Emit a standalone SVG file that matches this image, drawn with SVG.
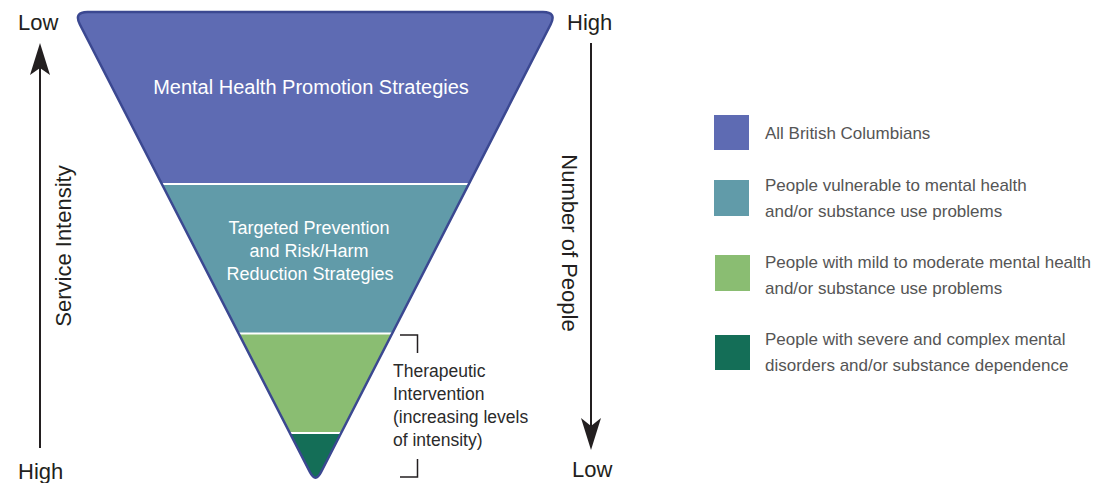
<svg xmlns="http://www.w3.org/2000/svg" width="1112" height="483" viewBox="0 0 1112 483">
  <style>
    .axis-label { font-family: "Liberation Sans", Arial, sans-serif; font-size: 22px; fill: #231f20; }
    .band-label { font-family: "Liberation Sans", Arial, sans-serif; fill: #ffffff; text-anchor: middle; }
    .note { font-family: "Liberation Sans", Arial, sans-serif; font-size: 17.5px; fill: #2b2b2b; }
    .legend-text { font-family: "Liberation Sans", Arial, sans-serif; font-size: 17px; fill: #555555; }
    .axis-line { stroke: #231f20; stroke-width: 2; fill: none; }
    .arrowhead { fill: #231f20; }
    .bracket { stroke: #231f20; stroke-width: 1.5; fill: none; }
    .separator { stroke: #ffffff; stroke-width: 2.2; }
    .c-blue { fill: #5e6bb3; }
    .c-teal { fill: #619ba9; }
    .c-green { fill: #8abd72; }
    .c-dark { fill: #146e57; }
  </style>
  <defs>
    <path id="funnel" d="M 87.5,12 L 543,12 Q 557,12 550.6,24.5 L 321,472.3 Q 315.5,483 310,472.3 L 79.9,24.5 Q 73.5,12 87.5,12 Z"/>
    <clipPath id="funnelClip">
      <use href="#funnel"/>
    </clipPath>
  </defs>

  <rect width="1112" height="483" fill="#ffffff"/>

  <g id="funnel-bands" clip-path="url(#funnelClip)">
    <g id="band-promotion">
      <rect class="c-blue" x="60" y="0" width="510" height="184"/>
    </g>
    <g id="band-prevention">
      <rect class="c-teal" x="60" y="184" width="510" height="149.5"/>
    </g>
    <g id="band-therapeutic">
      <rect class="c-green" x="60" y="333.5" width="510" height="99.5"/>
    </g>
    <g id="band-severe">
      <rect class="c-dark" x="60" y="433" width="510" height="60"/>
    </g>
    <line class="separator" x1="60" y1="184" x2="570" y2="184"/>
    <line class="separator" x1="60" y1="333.5" x2="570" y2="333.5"/>
    <line class="separator" x1="60" y1="433" x2="570" y2="433"/>
  </g>
  <use href="#funnel" fill="none" stroke="#3b4891" stroke-width="2.5"/>

  <g id="label-promotion">
    <text class="band-label" x="311" y="94" font-size="20">Mental Health Promotion Strategies</text>
  </g>
  <g id="label-prevention">
    <text class="band-label" x="309" y="234" font-size="18">Targeted Prevention</text>
    <text class="band-label" x="309" y="257" font-size="18">and Risk/Harm</text>
    <text class="band-label" x="310" y="280" font-size="18">Reduction Strategies</text>
  </g>

  <g id="therapeutic-note">
    <path class="bracket" d="M 400,335 H 417.5 V 353"/>
    <path class="bracket" d="M 417.5,459 V 477 H 400"/>
    <text class="note" x="393" y="377">Therapeutic</text>
    <text class="note" x="393" y="400">Intervention</text>
    <text class="note" x="393" y="423">(increasing levels</text>
    <text class="note" x="393" y="446">of intensity)</text>
  </g>

  <g id="connectors">
    <g id="axis-service-intensity">
      <line class="axis-line" x1="40" y1="66" x2="40" y2="448"/>
      <path class="arrowhead" d="M 40,43 L 50,75 L 40,68 L 30,75 Z"/>
    </g>
    <g id="axis-number-people">
      <line class="axis-line" x1="591" y1="43" x2="591" y2="428"/>
      <path class="arrowhead" d="M 591,450 L 601,418 L 591,426 L 581,418 Z"/>
    </g>
  </g>

  <g id="axis-labels">
    <text class="axis-label" x="18" y="30">Low</text>
    <text class="axis-label" x="18" y="479">High</text>
    <text class="axis-label" x="567" y="30">High</text>
    <text class="axis-label" x="572" y="477">Low</text>
    <text class="axis-label" text-anchor="middle" transform="translate(71,246) rotate(-90)">Service Intensity</text>
    <text class="axis-label" text-anchor="middle" transform="translate(562,243) rotate(90)">Number of People</text>
  </g>

  <g id="legend">
    <g id="legend-all">
      <rect class="c-blue" x="714" y="115" width="35" height="35"/>
      <text class="legend-text" x="765" y="139">All British Columbians</text>
    </g>
    <g id="legend-vulnerable">
      <rect class="c-teal" x="714" y="180" width="35" height="36"/>
      <text class="legend-text" x="765" y="191">People vulnerable to mental health</text>
      <text class="legend-text" x="765" y="217">and/or substance use problems</text>
    </g>
    <g id="legend-mild">
      <rect class="c-green" x="715" y="255" width="35" height="36"/>
      <text class="legend-text" x="765" y="268">People with mild to moderate mental health</text>
      <text class="legend-text" x="765" y="294">and/or substance use problems</text>
    </g>
    <g id="legend-severe">
      <rect class="c-dark" x="715" y="335" width="35" height="35"/>
      <text class="legend-text" x="765" y="345">People with severe and complex mental</text>
      <text class="legend-text" x="765" y="371">disorders and/or substance dependence</text>
    </g>
  </g>
</svg>
